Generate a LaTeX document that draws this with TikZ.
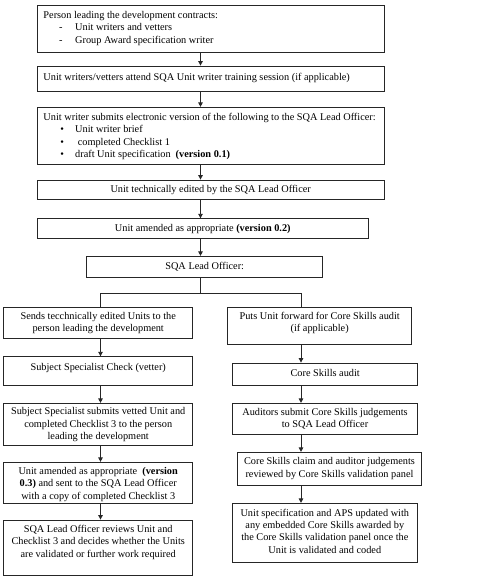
\documentclass[tikz,border=0pt]{standalone}
\usepackage{fontspec}
\setmainfont{Liberation Serif}
\usetikzlibrary{fit,arrows.meta}
\begin{document}
\begin{tikzpicture}[x=1bp,y=-1bp,
  box/.style={draw=black!85, line width=0.8bp, inner sep=0pt, rectangle},
  txt/.style={inner sep=0pt, font=\fontsize{10.3bp}{12.3bp}\selectfont, align=center, text=black},
  ltxt/.style={txt, align=left, anchor=west},
  arr/.style={draw=black!85, line width=0.9bp, -{Triangle[length=4.5bp,width=4.5bp]}},
  lin/.style={draw=black!85, line width=0.9bp}]
\useasboundingbox (0,0) rectangle (490,579);
% boxes
\node[box, fit={(37.3,5) (384.3,52.7)}] (b1) {};
\node[box, fit={(37.3,66) (384.3,91)}] (b2) {};
\node[box, fit={(37.3,107.3) (384.3,164)}] (b3) {};
\node[box, fit={(37.3,180) (384.3,199.3)}] (b4) {};
\node[box, fit={(37.3,218.7) (368.7,238)}] (b5) {};
\node[box, fit={(86.7,256.3) (322,277)}] (b6) {};
\node[box, fit={(3.3,307.3) (192.7,338.3)}] (a1) {};
\node[box, fit={(3.3,356.7) (192.7,385.3)}] (a2) {};
\node[box, fit={(3.3,403.3) (192.7,445.3)}] (a3) {};
\node[box, fit={(3.3,462.3) (192.7,503.3)}] (a4) {};
\node[box, fit={(3.3,520) (192.7,575.3)}] (a5) {};
\node[box, fit={(227.7,307.3) (411.7,344.3)}] (r1) {};
\node[box, fit={(232.7,363) (417,385.3)}] (r2) {};
\node[box, fit={(232.7,403.3) (417,434.3)}] (r3) {};
\node[box, fit={(237,452.3) (421.7,485.3)}] (r4) {};
\node[box, fit={(232.7,503.3) (417,562.3)}] (r5) {};
% texts
\node[ltxt] (b1t) at (43.3,28.4) {Person leading the development contracts:\\
  \hspace*{15.5bp}\makebox[16.2bp][l]{-}Unit writers and vetters\\
  \hspace*{15.5bp}\makebox[16.2bp][l]{-}Group Award specification writer};
\node[ltxt] (b2t) at (43.3,77.5) {Unit writers/vetters attend SQA Unit writer training session (if applicable)};
\node[ltxt] (b3t) at (43.3,136.4) {Unit writer submits electronic version of the following to the SQA Lead Officer:\\
  \hspace*{16.8bp}\makebox[14.9bp][l]{\textbullet}Unit writer brief\\
  \hspace*{16.8bp}\makebox[14.9bp][l]{\textbullet}\hspace*{2.6bp}completed Checklist 1\\
  \hspace*{16.8bp}\makebox[14.9bp][l]{\textbullet}draft Unit specification\hspace*{5bp}\textbf{(version 0.1)}};
\node[txt] (b4t) at (210.7,190) {Unit technically edited by the SQA Lead Officer};
\node[txt] (b5t) at (202.8,229.3) {Unit amended as appropriate \textbf{(version 0.2)}};
\node[txt] (b6t) at (204.7,266.7) {SQA Lead Officer:};
\node[txt] (a1t) at (98.2,322.7) {Sends tecchnically edited Units to the\\ person leading the development};
\node[txt] (a2t) at (98.2,367.7) {Subject Specialist Check (vetter)};
\node[txt] (a3t) at (98.2,424.8) {Subject Specialist submits vetted Unit and\\ completed Checklist 3 to the person\\ leading the development};
\node[txt] (a4t) at (98.2,484.4) {Unit amended as appropriate \ \textbf{(version}\\ \textbf{0.3)} and sent to the SQA Lead Officer\\ with a copy of completed Checklist 3};
\node[txt] (a5t) at (98.2,542.2) {SQA Lead Officer reviews Unit and\\ Checklist 3 and decides whether the Units\\ are validated or further work required};
\node[txt] (r1t) at (319.7,322.7) {Puts Unit forward for Core Skills audit\\ (if applicable)};
\node[txt] (r2t) at (325.2,373.3) {Core Skills audit};
\node[txt] (r3t) at (325,419) {Auditors submit Core Skills judgements\\ to SQA Lead Officer};
\node[txt] (r4t) at (329.5,468.5) {Core Skills claim and auditor judgements\\ reviewed by Core Skills validation panel};
\node[txt] (r5t) at (324.8,531) {Unit specification and APS updated with\\ any embedded Core Skills awarded by\\ the Core Skills validation panel once the\\ Unit is validated and coded};
% connector columns
\coordinate (mc) at (200.5,0);
\coordinate (lc) at (100.5,0);
\coordinate (rc) at (301,0);
\coordinate (j) at (200.5,293.3);
\draw[arr] (b1.south -| mc) -- (b2.north -| mc);
\draw[arr] (b2.south -| mc) -- (b3.north -| mc);
\draw[arr] (b3.south -| mc) -- (b4.north -| mc);
\draw[arr] (b4.south -| mc) -- (b5.north -| mc);
\draw[arr] (b5.south -| mc) -- (b6.north -| mc);
\draw[lin] (b6.south -| mc) -- (j);
\draw[lin] (a1.north -| lc) |- (j) -| (r1.north -| rc);
\draw[arr] (a1.south -| lc) -- (a2.north -| lc);
\draw[arr] (a2.south -| lc) -- (a3.north -| lc);
\draw[arr] (a3.south -| lc) -- (a4.north -| lc);
\draw[arr] (a4.south -| lc) -- (a5.north -| lc);
\draw[arr] (r1.south -| rc) -- (r2.north -| rc);
\draw[arr] (r2.south -| rc) -- (r3.north -| rc);
\draw[arr] (r3.south -| rc) -- (r4.north -| rc);
\draw[arr] (r4.south -| rc) -- (r5.north -| rc);
\end{tikzpicture}
\end{document}
